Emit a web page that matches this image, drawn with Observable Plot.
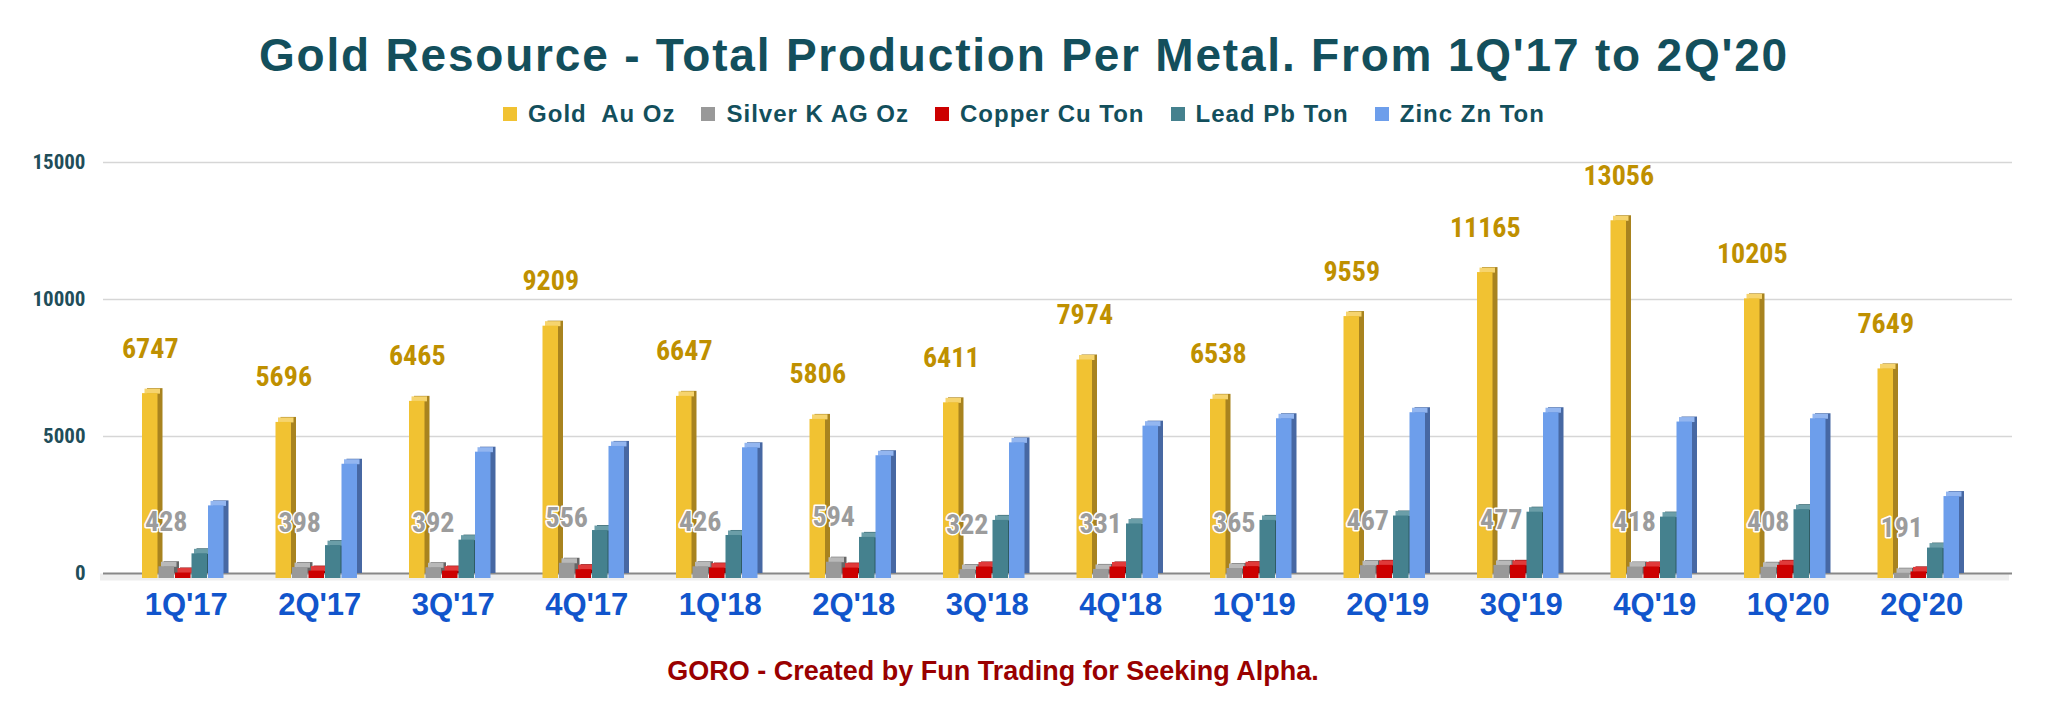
<!DOCTYPE html>
<html>
<head>
<meta charset="utf-8">
<script src="https://cdn.jsdelivr.net/npm/d3@7"></script>
<script src="https://cdn.jsdelivr.net/npm/@observablehq/plot@0.6"></script>
<style>
  html, body { margin: 0; padding: 0; background: #fff; }
  #wrap { position: relative; width: 2048px; height: 719px; overflow: hidden; font-family: "Liberation Sans", Arial, sans-serif; }
  #title { position: absolute; left: 0; top: 0; width: 2048px; height: 110px; line-height: 110px; text-align: center;
           font-size: 46px; letter-spacing: 1.8px; font-weight: bold; color: #134f5c; white-space: nowrap; }
  #legend { position: absolute; left: 0; top: 94px; width: 2048px; height: 40px; display: flex; justify-content: center; align-items: center;
            font-size: 24px; letter-spacing: 1px; font-weight: bold; color: #134f5c; white-space: pre; }
  #legend .item { display: flex; align-items: center; margin: 0 13px; }
  #legend .sw { width: 14px; height: 14px; margin-right: 11px; }
  #chart { position: absolute; left: 0; top: 140px; }
  #caption { position: absolute; left: 0; top: 651px; width: 1986px; height: 40px; line-height: 40px; text-align: center;
             font-size: 27px; font-weight: bold; color: #990000; white-space: nowrap; }
  #chart [font-family^="Roboto"] { font-stretch: 78%; }
</style>
</head>
<body>
<div id="wrap">
  <div id="title"></div>
  <div id="legend"></div>
  <div id="chart"></div>
  <div id="caption"></div>
</div>
<script>
const titleText = "Gold Resource - Total Production Per Metal. From 1Q'17 to 2Q'20";
const captionText = "GORO - Created by Fun Trading for Seeking Alpha.";

const quarters = ["1Q'17","2Q'17","3Q'17","4Q'17","1Q'18","2Q'18","3Q'18","4Q'18","1Q'19","2Q'19","3Q'19","4Q'19","1Q'20","2Q'20"];
const gold   = [6747, 5696, 6465, 9209, 6647, 5806, 6411, 7974, 6538, 9559, 11165, 13056, 10205, 7649];
const silver = [428, 398, 392, 556, 426, 594, 322, 331, 365, 467, 477, 418, 408, 191];
const copper = [200, 270, 270, 320, 380, 380, 420, 420, 430, 480, 480, 420, 480, 240];
const lead   = [900, 1200, 1400, 1750, 1570, 1500, 2120, 1990, 2120, 2280, 2420, 2240, 2510, 1110];
const zinc   = [2650, 4170, 4610, 4820, 4770, 4480, 4950, 5560, 5830, 6050, 6050, 5710, 5830, 2990];

const metalNames = ["Gold  Au Oz", "Silver K AG Oz", "Copper Cu Ton", "Lead Pb Ton", "Zinc Zn Ton"];
const metalSeries = [gold, silver, copper, lead, zinc];
const frontColors = ["#f1c232", "#999999", "#cc0000", "#45818e", "#6d9eeb"];
const sideColors  = ["#a8831f", "#666666", "#8a0000", "#2f5b64", "#4768a3"];
const topColors   = ["#f6d46e", "#b9b9b9", "#e03a3a", "#6b9ea8", "#93b6f0"];
const yTicks = [0, 5000, 10000, 15000];

document.getElementById("title").textContent = titleText;
document.getElementById("caption").textContent = captionText;
const legend = document.getElementById("legend");
metalNames.forEach((name, i) => {
  const item = document.createElement("div");
  item.className = "item";
  const sw = document.createElement("div");
  sw.className = "sw";
  sw.style.background = frontColors[i];
  const t = document.createElement("span");
  t.textContent = name;
  item.appendChild(sw); item.appendChild(t);
  legend.appendChild(item);
});

const W = 2048, H = 500;
const x0 = 119, x1 = 1988;
const step = (x1 - x0) / quarters.length;
const barW = 15.5, pitch = 16.5, firstOff = 23, depth = 5;

const tables = metalSeries.map((vals, k) => quarters.map((q, i) => ({quarter: q, value: vals[i], metal: metalNames[k]})));
const goldTable = tables[0];
const silverTable = tables[1];

const marks = [
  Plot.ruleY(yTicks.filter(d => d > 0), {stroke: "#d6d6d6", strokeWidth: 1.5}),
  Plot.ruleY([0], {stroke: "#eeeeee", strokeWidth: 7, dy: 3.5, dx: -3}),
  Plot.ruleY([0], {stroke: "#888888", strokeWidth: 2})
];

tables.forEach((tbl, k) => {
  const off = firstOff + k * pitch;
  const insL = off, insR = step - off - barW;
  marks.push(
    Plot.barY(tbl, {x: "quarter", y1: 0, y2: "value", fill: sideColors[k], insetLeft: insL + depth, insetRight: insR - depth}),
    Plot.tickY(tbl, {x: "quarter", y: "value", stroke: topColors[k], strokeWidth: depth, dy: depth / 2, insetLeft: insL + depth / 2, insetRight: insR - depth / 2}),
    Plot.barY(tbl, {x: "quarter", y1: 0, y2: "value", fill: frontColors[k], dy: depth, insetLeft: insL, insetRight: insR})
  );
});

const condensed = "Roboto, 'Liberation Sans', sans-serif";
marks.push(
  Plot.text(goldTable, {x: "quarter", y: "value", text: d => String(d.value), dx: -36, dy: -40,
    fill: "#bf9000", fontSize: 28, fontWeight: "bold", fontFamily: condensed}),
  Plot.text(silverTable, {x: "quarter", y: "value", text: d => String(d.value), dx: -20, dy: -40,
    fill: "#9c9c9c", stroke: "white", strokeWidth: 3, fontSize: 28, fontWeight: "bold", fontFamily: condensed}),
  Plot.axisY(yTicks, {tickSize: 0, tickPadding: 18, fontSize: 21, fill: "#1f4e5a", fontFamily: condensed, fontWeight: "bold",
    tickFormat: d => String(d), label: null}),
  Plot.axisX({tickSize: 0, tickPadding: 19, fontSize: 31, fontWeight: "bold", fill: "#1155cc", fontFamily: "'Liberation Sans', Arial, sans-serif", label: null})
);

const chart = Plot.plot({
  width: W,
  height: H,
  marginLeft: 103,
  marginRight: 36,
  marginTop: 22,
  marginBottom: 67,
  x: {domain: quarters, range: [x0, x1], padding: 0, round: false, axis: null},
  y: {domain: [0, 15000], axis: null},
  style: {background: "transparent", overflow: "visible"},
  marks
});
document.getElementById("chart").appendChild(chart);
</script>
</body>
</html>
